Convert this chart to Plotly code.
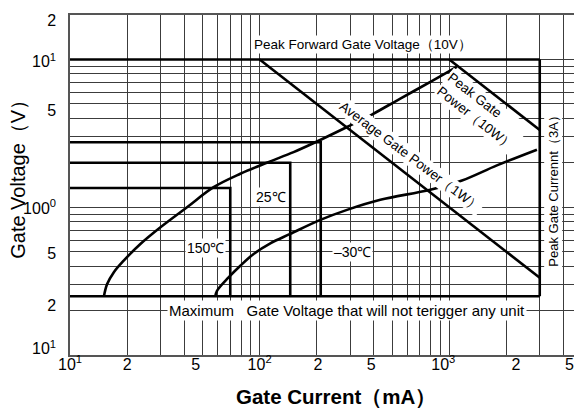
import numpy as np
import plotly.graph_objects as go

# ---------------- data ----------------
# Upper boundary of gate characteristic (mA, V)
upper_I = [15.1, 15.7, 17.0, 19.2, 23.5, 30.0, 41.4, 57.2, 79.1, 109, 151, 193, 289, 391, 552, 826, 1095]
upper_V = [0.25, 0.302, 0.362, 0.435, 0.564, 0.732, 1.0, 1.367, 1.685, 2.0, 2.36, 2.72, 3.49, 4.24, 5.44, 7.24, 8.9]

# Lower boundary of gate characteristic (mA, V)
lower_I = [58.4, 59.6, 68.6, 79.1, 93.0, 113.9, 145, 209, 289, 433, 794, 1167, 1784, 2899]
lower_V = [0.25, 0.272, 0.335, 0.402, 0.483, 0.570, 0.660, 0.821, 0.960, 1.123, 1.313, 1.517, 1.919, 2.452]

# Gate trigger boxes per temperature
box_labels = ["150℃", "25℃", "–30℃"]
box_igt = [70, 145, 210]       # mA
box_vgt = [1.35, 2.0, 2.75]    # V

# Ratings
peak_forward_voltage = 10.0   # V
peak_gate_current = 3000.0    # mA
avg_gate_power = 1.0          # W
peak_gate_power = 10.0        # W
max_nontrigger_voltage = 0.25 # V
i_min = 10.0                  # mA (axis start)

# Axis ticks (label positions as printed on the original sheet)
x_tick_vals = [10, 20, 46, 100, 203, 388, 930, 2250, 4300]
x_tick_text = ["10<sup>1</sup>", "2", "5", "10<sup>2</sup>", "2", "5", "10<sup>3</sup>", "2", "5"]
x_grid_vals = [20, 30, 40, 50, 60, 70, 80, 90, 100, 200, 300, 400, 500, 600, 700, 800, 900,
               1000, 2000, 3000, 4000, 5000]
y_tick_vals = [18.5, 9.65, 4.55, 0.98, 0.485, 0.215, 0.11]
y_tick_text = ["2", "10<sup>1</sup>", "5", "100<sup>0</sup>", "5", "2", "10<sup>1</sup>"]
y_grid_vals = [0.2, 0.3, 0.4, 0.5, 0.6, 0.7, 0.8, 0.9, 1, 2, 3, 4, 5, 6, 7, 8, 9, 10]

# ---------------- figure ----------------
FONT = "Liberation Sans, Arial, sans-serif"
LW = 2.6
fig = go.Figure()

def add_line(x, y, shape="linear"):
    fig.add_trace(go.Scatter(x=x, y=y, mode="lines",
                             line=dict(color="black", width=LW, shape=shape),
                             hoverinfo="skip", showlegend=False))

# Rating limits
add_line([i_min, peak_gate_current], [peak_forward_voltage, peak_forward_voltage])
add_line([i_min, peak_gate_current], [max_nontrigger_voltage, max_nontrigger_voltage])
add_line([peak_gate_current, peak_gate_current], [max_nontrigger_voltage, peak_forward_voltage])
# Average gate power 1W: V = P / I
i_avg_start = avg_gate_power * 1000 / peak_forward_voltage
add_line([i_avg_start, peak_gate_current],
         [avg_gate_power * 1000 / i_avg_start, avg_gate_power * 1000 / peak_gate_current])
# Peak gate power 10W
i_pk_start = peak_gate_power * 1000 / peak_forward_voltage
add_line([i_pk_start, peak_gate_current],
         [peak_gate_power * 1000 / i_pk_start, peak_gate_power * 1000 / peak_gate_current])

# Temperature boxes
for igt, vgt in zip(box_igt, box_vgt):
    add_line([i_min, igt, igt], [vgt, vgt, max_nontrigger_voltage])

# Characteristic curves
add_line(upper_I, upper_V, "spline")
add_line(lower_I, lower_V, "spline")

L = np.log10
ann_font = dict(family=FONT, size=13.5, color="black")
annotations = [
    dict(x=L(350), y=L(12.7), text="Peak Forward Gate Voltage（10V）", textangle=0),
    dict(x=L(623), y=L(2.21), text="Average Gate Power（1W）", textangle=37),
    dict(x=L(1466), y=L(4.43), text="Peak Gate<br>Power（10W）", textangle=38, align="left"),
    dict(x=L(3532), y=L(1.36), text="Peak Gate Currennt（3A）", textangle=-90, font=dict(family=FONT, size=13, color="black")),
    dict(x=L(290), y=L(0.201), text="Maximum\u00a0\u00a0\u00a0Gate Voltage that will not terigger any unit",
         font=dict(family=FONT, size=15, color="black")),
    dict(x=L(51.7), y=L(0.527), text=box_labels[0], font=dict(family=FONT, size=14, color="black")),
    dict(x=L(114.8), y=L(1.18), text=box_labels[1], font=dict(family=FONT, size=14, color="black")),
    dict(x=L(307), y=L(0.50), text=box_labels[2], font=dict(family=FONT, size=14, color="black")),
]
for a in annotations:
    a.setdefault("font", ann_font)
    a.update(xref="x", yref="y", showarrow=False, bgcolor="white", borderpad=1,
             xanchor="center", yanchor="middle")

# axis titles as annotations
annotations.append(dict(xref="paper", yref="paper", x=0, y=0.53, xshift=-52,
                        xanchor="center", yanchor="middle",
                        text="Gate Voltage（V）", textangle=-90, showarrow=False,
                        font=dict(family=FONT, size=20, color="black")))
annotations.append(dict(xref="paper", yref="paper", x=0.52, y=0, yshift=-41,
                        xanchor="center", yanchor="middle",
                        text="<b>Gate Current（mA）</b>", showarrow=False,
                        font=dict(family=FONT, size=20.5, color="black")))

GRID = "#3c3c3c"
# The page body adds an 8px offset, so the figure is sized to the remaining window.
fig.update_layout(
    width=574, height=400,
    margin=dict(l=62, r=0, t=7, b=53, autoexpand=False),
    paper_bgcolor="white", plot_bgcolor="white",
    font=dict(family=FONT, size=16, color="black"),
    annotations=annotations,
    xaxis=dict(type="log", range=[1, 3.70], showgrid=False, zeroline=False, automargin=False,
               tickmode="array", tickvals=x_tick_vals, ticktext=x_tick_text, ticks="", ticklen=0,
               ticklabelstandoff=-6,
               tickfont=dict(family=FONT, size=16, color="black"),
               showline=True, linecolor="#555", linewidth=1.5, mirror=True,
               minor=dict(tickmode="array", tickvals=x_grid_vals, showgrid=True,
                          gridcolor=GRID, gridwidth=1, ticks="")),
    yaxis=dict(type="log", range=[-1, np.log10(20)], showgrid=False, zeroline=False, automargin=False,
               tickmode="array", tickvals=y_tick_vals, ticktext=y_tick_text, ticks="",
               ticklabelstandoff=9,
               tickfont=dict(family=FONT, size=16, color="black"),
               showline=True, linecolor="#555", linewidth=1.5,
               minor=dict(tickmode="array", tickvals=y_grid_vals, showgrid=True,
                          gridcolor=GRID, gridwidth=1, ticks="")),
)

fig.write_html("out.html")
